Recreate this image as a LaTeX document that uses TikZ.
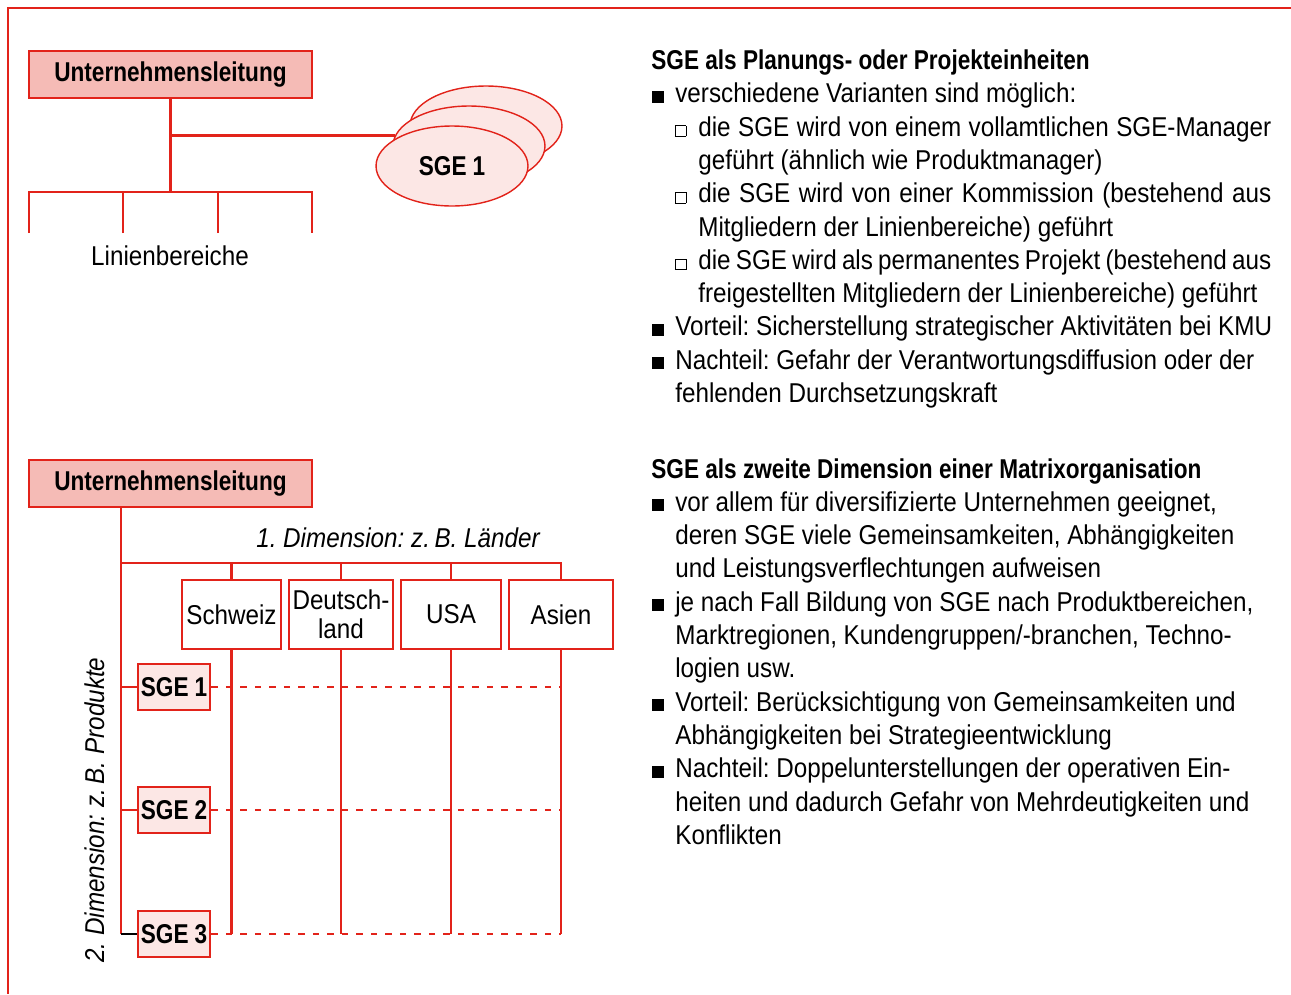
\documentclass[tikz,border=0pt]{standalone}
\usepackage{fontspec}
\setmainfont{Liberation Sans}[UprightFeatures={FakeStretch=0.89},
  ItalicFeatures={FakeStretch=0.89}, BoldFeatures={FakeStretch=0.83},
  BoldItalicFeatures={FakeStretch=0.83}]
\usetikzlibrary{shapes.geometric}
\frenchspacing

\definecolor{sgered}{RGB}{226,35,26}
\definecolor{headpink}{RGB}{245,187,182}
\definecolor{sgepink}{RGB}{252,231,229}

\newcommand{\bodyfont}{\fontsize{15.5pt}{16.5pt}\selectfont}
% bullets hang to the left of the line start
\newcommand{\bul}{\llap{\rule{0.24cm}{0.24cm}\hspace{0.22cm}}}
\newcommand{\sbul}{\llap{{\fboxsep=0pt\fboxrule=0.4pt\fbox{\rule{0pt}{0.2cm}\hspace{0.2cm}}}\hspace{0.24cm}}}
\newlength{\jw}\setlength{\jw}{11.46cm}

\tikzset{
  redline/.style={draw=sgered, line width=1.6pt},
  headbox/.style={draw=sgered, line width=1.6pt, fill=headpink, minimum width=5.66cm,
    minimum height=0.94cm, inner sep=0pt, font=\bodyfont\bfseries},
  landbox/.style={draw=sgered, line width=1.6pt, minimum height=1.38cm, inner sep=0pt,
    align=center, font=\bodyfont},
  sgebox/.style={draw=sgered, line width=1.6pt, fill=sgepink, minimum width=1.44cm,
    minimum height=0.92cm, inner sep=0pt, font=\bodyfont\bfseries},
  sgeoval/.style={ellipse, draw=sgered, line width=0.8pt, fill=sgepink, minimum width=3.04cm,
    minimum height=1.6cm, inner sep=0pt, font=\bodyfont\bfseries},
  dimlabel/.style={inner sep=0pt, font=\bodyfont\itshape},
  txt/.style={anchor=base west, inner sep=0pt, font=\bodyfont},
  matrixdash/.style={draw=sgered, line width=1.3pt, dash pattern=on 0.13cm off 0.16cm},
}

\begin{document}
\begin{tikzpicture}[x=0.02cm, y=-0.02cm]
  \useasboundingbox (0,0) rectangle (1291,994);
  \draw[redline] (1291,8) -- (8,8) -- (8,994);

  % SGE als Planungs- oder Projekteinheit
  \node[headbox] (ul1) at (170.5,74.5) {Unternehmensleitung};
  \coordinate (bar) at (170,192);
  \coordinate (l1) at (29,233);
  \coordinate (l2) at (123,233);
  \coordinate (l3) at (218,233);
  \coordinate (l4) at (312,233);
  \draw[redline] (ul1.south) -- (ul1.south |- bar);
  \draw[redline] (l1) |- (bar) -| (l4);
  \draw[redline] (l2) -- (l2 |- bar);
  \draw[redline] (l3) -- (l3 |- bar);
  \node[inner sep=0pt, font=\bodyfont] (lb) at (170,256) {Linienbereiche};
  \node[sgeoval] (sgeB) at (486,126) {};
  \node[sgeoval] (sgeM) at (469,146) {};
  \node[sgeoval] (sgeF) at (452,166) {SGE\hspace{0.12cm}1};
  \draw[redline] (ul1.south |- sgeM.172) -- (sgeM.172);

  % Matrix
  \node[headbox] (ul2) at (170.5,483.5) {Unternehmensleitung};
  \node[dimlabel] (dim1) at (398,538) {1. Dimension: z.\,B. Länder};
  \node[landbox, minimum width=1.98cm] (schweiz) at (231.5,614.5) {Schweiz};
  \node[landbox, minimum width=2.08cm] (deutsch) at (341,614.5) {Deutsch-\\land};
  \node[landbox, minimum width=2.0cm] (usa) at (451,614.5) {USA};
  \node[landbox, minimum width=2.08cm] (asien) at (561,614.5) {Asien};
  \node[sgebox] (sge1) at (174,687) {SGE\hspace{0.12cm}1};
  \node[sgebox] (sge2) at (174,810) {SGE\hspace{0.12cm}2};
  \node[sgebox] (sge3) at (174,934) {SGE\hspace{0.12cm}3};
  \node[dimlabel, rotate=90] (dim2) at (95,810) {2. Dimension: z.\,B. Produkte};
  \coordinate (trunk) at (121,563);
  \draw[redline] (ul2.south -| trunk) -- (trunk |- sge3);
  \draw[redline] (trunk) -| (asien.north);
  \foreach \c in {schweiz,deutsch,usa}
    \draw[redline] (\c.north) -- (\c.north |- trunk);
  \foreach \c in {schweiz,deutsch,usa,asien}
    \draw[redline] (\c.south) -- (\c.south |- sge3);
  \foreach \s in {sge1,sge2}
    \draw[redline] (trunk |- \s) -- (\s.west);
  \draw[line width=1.6pt] (trunk |- sge3) -- (sge3.west);
  \foreach \s in {sge1,sge2,sge3}
    \draw[matrixdash] (\s.east) -- (\s -| asien);

  % Text rechts oben
  \node[txt, font=\bodyfont\bfseries] (a0) at (651,69.5) {SGE als Planungs- oder Projekteinheiten};
  \node[txt] (a1) at (675,102.8) {\bul verschiedene Varianten sind möglich:};
  \node[txt] (a2) at (698,136.1) {\sbul\makebox[\jw][s]{die SGE wird von einem vollamtlichen SGE-Manager}};
  \node[txt] (a3) at (698,169.4) {geführt (ähnlich wie Produktmanager)};
  \node[txt] (a4) at (698,202.7) {\sbul\makebox[\jw][s]{die SGE wird von einer Kommission (bestehend aus}};
  \node[txt] (a5) at (698,236.0) {Mitgliedern der Linienbereiche) geführt};
  \node[txt] (a6) at (698,269.3) {\sbul\makebox[\jw][s]{die SGE wird als permanentes Projekt (bestehend aus}};
  \node[txt] (a7) at (698,302.6) {freigestellten Mitgliedern der Linienbereiche) geführt};
  \node[txt] (a8) at (675,335.9) {\bul Vorteil: Sicherstellung strategischer Aktivitäten bei KMU};
  \node[txt] (a9) at (675,369.2) {\bul Nachteil: Gefahr der Verantwortungsdiffusion oder der};
  \node[txt] (a10) at (675,402.5) {fehlenden Durchsetzungskraft};

  % Text rechts unten
  \node[txt, font=\bodyfont\bfseries] (b0) at (651,478) {SGE als zweite Dimension einer Matrixorganisation};
  \node[txt] (b1) at (675,511.3) {\bul vor allem für diversifizierte Unternehmen geeignet,};
  \node[txt] (b2) at (675,544.6) {deren SGE viele Gemeinsamkeiten, Abhängigkeiten};
  \node[txt] (b3) at (675,577.9) {und Leistungsverflechtungen aufweisen};
  \node[txt] (b4) at (675,611.2) {\bul je nach Fall Bildung von SGE nach Produktbereichen,};
  \node[txt] (b5) at (675,644.5) {Marktregionen, Kundengruppen/-branchen, Techno-};
  \node[txt] (b6) at (675,677.8) {logien usw.};
  \node[txt] (b7) at (675,711.1) {\bul Vorteil: Berücksichtigung von Gemeinsamkeiten und};
  \node[txt] (b8) at (675,744.4) {Abhängigkeiten bei Strategieentwicklung};
  \node[txt] (b9) at (675,777.7) {\bul Nachteil: Doppelunterstellungen der operativen Ein-};
  \node[txt] (b10) at (675,811.0) {heiten und dadurch Gefahr von Mehrdeutigkeiten und};
  \node[txt] (b11) at (675,844.3) {Konflikten};
\end{tikzpicture}
\end{document}
